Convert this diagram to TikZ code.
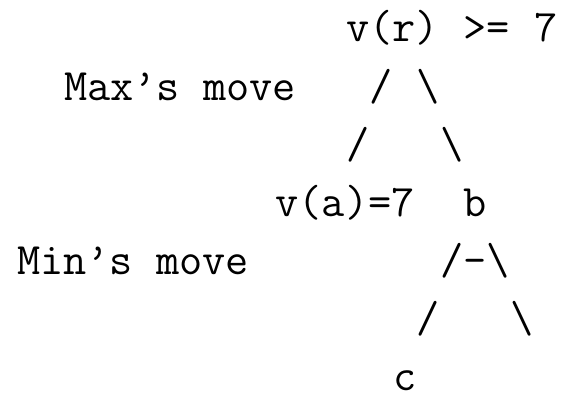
\documentclass[tikz,border=0pt]{standalone}
\begin{document}
\begin{tikzpicture}[x=1pt,y=1pt,
  ch/.style={anchor=base west, inner sep=0pt, outer sep=0pt,
    font=\fontsize{45}{58}\selectfont\ttfamily}]
\useasboundingbox (0,0) rectangle (565,-396);
% cell width 23.5pt, column 0 starts at x=17; baselines 58pt apart
\newcommand{\cx}[1]{\fpeval{17+23.5*#1}}
\newcommand{\ly}[1]{\fpeval{-42-58*(#1-1)}}
% line 1
\node[ch] (vr)   at (\cx{14},\ly{1}) {v(r)};
\node[ch] (ge)   at (\cx{19},\ly{1}) {>=};
\node[ch] (sev)  at (\cx{22},\ly{1}) {7};
% line 2
\node[ch] (maxm) at (\cx{2},\ly{2}) {Max’s move};
\node[ch] (s2a)  at (\cx{15},\ly{2}) {/};
\node[ch] (s2b)  at (\cx{17},\ly{2}) {\textbackslash};
% line 3
\node[ch] (s3a)  at (\cx{14},\ly{3}) {/};
\node[ch] (s3b)  at (\cx{18},\ly{3}) {\textbackslash};
% line 4
\node[ch] (va)   at (\cx{11},\ly{4}) {v(a)=7};
\node[ch] (b)    at (\cx{19},\ly{4}) {b};
% line 5
\node[ch] (minm) at (\cx{0},\ly{5}) {Min’s move};
\node[ch] (s5)   at (\cx{18},\ly{5}) {/-\textbackslash};
% line 6
\node[ch] (s6a)  at (\cx{17},\ly{6}) {/};
\node[ch] (s6b)  at (\cx{21},\ly{6}) {\textbackslash};
% line 7
\node[ch] (c)    at (\cx{16},\ly{7}) {c};
\end{tikzpicture}
\end{document}
